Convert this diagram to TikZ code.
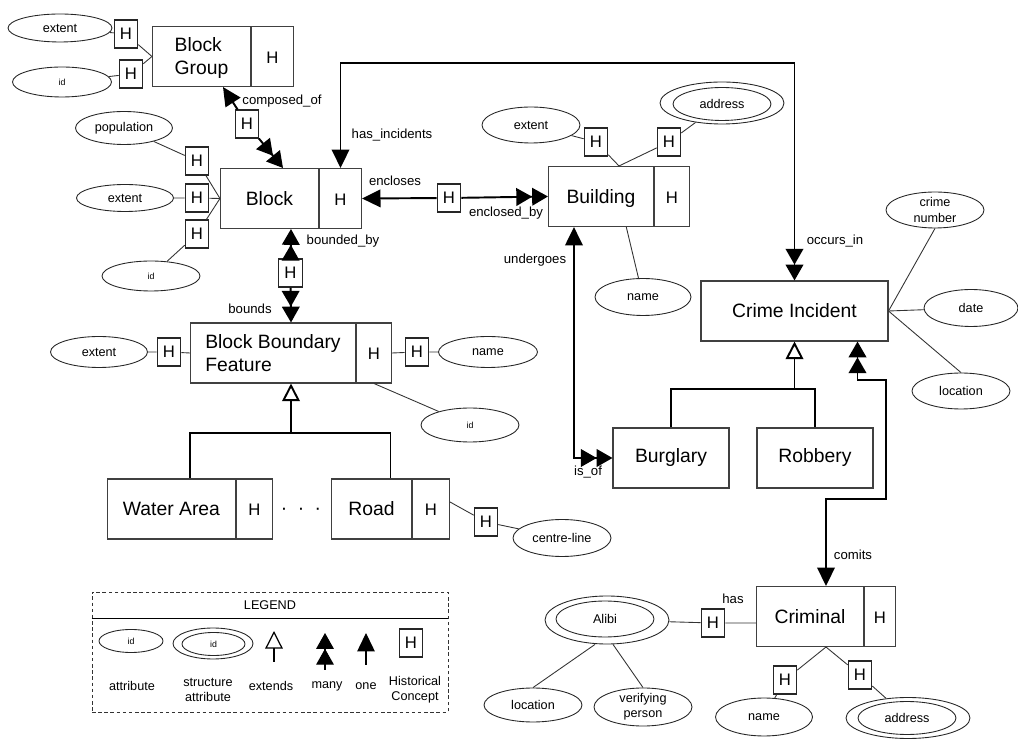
\documentclass[tikz,border=0pt]{standalone}
\usepackage{fontspec}
\setmainfont{Liberation Sans}
\usetikzlibrary{shapes.geometric, shapes.multipart, arrows.meta, calc}

\newcommand{\entfont}{\fontsize{11}{13}\selectfont}
\newcommand{\hisfont}{\fontsize{9.5}{11}\selectfont}
\newcommand{\estrut}{\rule[\dimexpr3.9pt-0.6cm\relax]{0pt}{1.2cm}}
% entity with history part: name width, H width, name
\newcommand{\hent}[3]{\makebox[#1]{\estrut#3}\nodepart{two}\makebox[#2]{\estrut\hisfont H}}

\tikzset{
    entity/.style={
        rectangle, draw=black!75, line width=0.6pt,
        minimum height=1.2cm, fill=white, font=\entfont
    },
    hentity/.style={
        rectangle split, rectangle split horizontal, rectangle split parts=2,
        draw=black!75, line width=0.6pt, inner sep=0pt,
        fill=white, font=\entfont
    },
    attr/.style={
        ellipse, draw=black!85, line width=0.5pt, inner sep=0pt,
        minimum width=1.96cm, minimum height=0.68cm,
        fill=white, align=center, font=\fontsize{7.2}{8.6}\selectfont
    },
    idattr/.style={attr, font=\fontsize{5}{6}\selectfont},
    hbox/.style={
        rectangle, draw=black!85, line width=0.6pt, inner sep=0pt,
        minimum width=0.47cm, minimum height=0.56cm,
        fill=white, font=\hisfont
    },
    rel/.style={draw=black, line width=1.1pt},
    attrline/.style={draw=black!80, line width=0.5pt},
    rellabel/.style={font=\fontsize{7.5}{9}\selectfont, inner sep=1pt},
    legendbox/.style={draw=black!80, dashed, dash pattern=on 2pt off 1.5pt, line width=0.5pt},
    legendlabel/.style={font=\fontsize{7.2}{8.6}\selectfont, align=center, inner sep=1pt},
    onetip/.tip={Triangle[length=10.5pt,width=10pt]},
    manytip/.tip={Triangle[length=9pt,width=10pt] Triangle[length=9pt,width=10pt]},
    isatip/.tip={Triangle[open,length=10pt,width=10pt]}
}

\begin{document}
\begin{tikzpicture}[x=0.02cm, y=-0.02cm]
\useasboundingbox (0,0) rectangle (1018,739);

% entities
\node[hentity] (bgrp) at (223,56.5) {\hent{1.96cm}{0.84cm}{\begin{tabular}{@{}l@{}}Block\\Group\end{tabular}}};
\node[hentity] (blk) at (291,198.5) {\hent{1.96cm}{0.84cm}{Block}};
\node[hentity] (bld) at (619,196.5) {\hent{2.1cm}{0.7cm}{Building}};
\node[hentity] (bbf) at (291,353) {\hent{3.3cm}{0.7cm}{\begin{tabular}{@{}l@{}}Block Boundary\\Feature\end{tabular}}};
\node[hentity] (wat) at (190,509) {\hent{2.56cm}{0.72cm}{Water Area}};
\node[hentity] (road) at (390.5,509) {\hent{1.6cm}{0.74cm}{Road}};
\node[entity, minimum width=3.74cm] (ci) at (794.5,311) {Crime Incident};
\node[entity, minimum width=2.32cm] (burg) at (671,458) {Burglary};
\node[entity, minimum width=2.32cm] (rob) at (815,458) {Robbery};
\node[hentity] (crim) at (826,616.5) {\hent{2.14cm}{0.62cm}{Criminal}};
\node[font=\entfont, inner sep=0pt] (dots) at (301,511) {·\hspace{6pt}·\hspace{6pt}·};

% attributes
\node[attr, minimum width=2.08cm, minimum height=0.56cm] (ext1) at (60,28) {extent};
\node[idattr, minimum width=1.98cm, minimum height=0.6cm] (id1) at (62,82) {id};
\node[attr, minimum width=1.94cm, minimum height=0.66cm] (pop) at (124,128) {population};
\node[attr, minimum width=1.94cm, minimum height=0.54cm] (ext2) at (125,198) {extent};
\node[idattr, minimum height=0.6cm] (id2) at (151,276) {id};
\node[attr, minimum height=0.72cm] (ext3) at (531,125) {extent};
\node[attr, minimum width=2.48cm, minimum height=0.84cm] (addr1) at (722,103) {};
\node[attr, minimum height=0.66cm] (addr1in) at (722,104) {address};
\node[attr, minimum width=1.92cm, minimum height=0.74cm] (name1) at (643,297) {name};
\node[attr, minimum height=0.72cm] (cnum) at (935,210) {crime\\number};
\node[attr, minimum width=1.88cm, minimum height=0.74cm] (date) at (971,308) {date};
\node[attr, minimum height=0.72cm] (loc1) at (961,391) {location};
\node[attr, minimum width=1.94cm, minimum height=0.62cm] (ext4) at (99,352) {extent};
\node[attr, minimum width=1.98cm, minimum height=0.62cm] (name4) at (488,352) {name};
\node[idattr] (id4) at (470,425) {id};
\node[attr, minimum height=0.74cm] (cl) at (562,538) {centre-line};
\node[attr, minimum width=2.48cm, minimum height=0.96cm] (alibi) at (607,620) {};
\node[attr, minimum height=0.72cm] (alibiin) at (605,619) {Alibi};
\node[attr, minimum height=0.68cm] (loc2) at (533,705) {location};
\node[attr, minimum height=0.74cm] (vper) at (643,707) {verifying\\person};
\node[attr, minimum width=1.94cm, minimum height=0.76cm] (name2) at (764,717) {name};
\node[attr, minimum width=2.48cm, minimum height=0.82cm] (addr2) at (908,718) {};
\node[attr, minimum height=0.66cm] (addr2in) at (907,718) {address};

% historical concepts
\node[hbox] (hext1) at (126,34) {H};
\node[hbox] (hid1) at (131,74) {H};
\node[hbox] (hco) at (247,124) {H};
\node[hbox] (hpop) at (197,161) {H};
\node[hbox] (hext2) at (197,198) {H};
\node[hbox] (hid2) at (197,234) {H};
\node[hbox] (hen) at (449,198) {H};
\node[hbox] (hbd) at (290.5,273) {H};
\node[hbox] (hext3) at (596,142) {H};
\node[hbox] (haddr1) at (669,142) {H};
\node[hbox] (hext4) at (169,352) {H};
\node[hbox] (hname4) at (417,352) {H};
\node[hbox] (hcl) at (486,522) {H};
\node[hbox] (hhas) at (713,623) {H};
\node[hbox] (hname2) at (785,680) {H};
\node[hbox] (haddr2) at (860,675) {H};

% attribute links
\draw[attrline] (ext1) -- (hext1) -- (bgrp.west);
\draw[attrline] (id1) -- (hid1) -- (bgrp.west);
\draw[attrline] (pop) -- (hpop) -- (blk.west);
\draw[attrline] (ext2) -- (hext2) -- (blk.west);
\draw[attrline] (id2) -- (hid2) -- (blk.west);
\draw[attrline] (ext3) -- (hext3) -- (bld.north);
\draw[attrline] (addr1) -- (haddr1) -- (bld.north);
\draw[attrline] (bld) -- (name1);
\draw[attrline] (ci.east) -- (cnum.south);
\draw[attrline] (ci.east) -- (date);
\draw[attrline] (ci.east) -- (loc1.north);
\draw[attrline] (ext4) -- (hext4) -- (bbf.west);
\draw[attrline] (bbf.east) -- (hname4) -- (name4);
\draw[attrline] (bbf.two south) -- (id4);
\draw[attrline] ($(road.east)+(0,-7)$) -- (hcl) -- (cl);
\draw[attrline] (alibi) -- (hhas) -- (hhas -| crim.west);
\draw[attrline] ($(alibi.south)+(-12,0)$) -- (loc2.north);
\draw[attrline] ($(alibi.south)+(6,0)$) -- (vper.north);
\draw[attrline] (crim.south) -- (hname2) -- (name2);
\draw[attrline] (crim.south) -- (haddr2) -- (addr2);

% relationships
\coordinate (hinc) at (0,63);
\coordinate (cm1) at (886,380);
\coordinate (cm2) at (886,499);
\draw[rel, {onetip}-] (bgrp.south) -- (hco);
\draw[rel, -{manytip}] (hco) -- ($(blk.north)+(-8,0)$);
\draw[rel, {onetip}-{manytip}] (blk.two north) -- (blk.two north |- hinc) -| (ci.north);
\draw[rel, {onetip}-] (blk.east) -- (hen);
\draw[rel, -{manytip}] (hen) -- (bld.west);
\draw[rel, {manytip}-] (blk.south) -- (hbd);
\draw[rel, -{manytip}] (hbd) -- (bbf.north);
\draw[rel, {onetip}-{manytip}] ($(bld.south west)+(26,0)$) |- (burg.west);
\draw[rel, {manytip}-{onetip}] ($(ci.south east)+(-31,0)$) |- (cm1) -- (cm2) -| (crim.north);

% generalisations
\coordinate (bbfgen) at (291,433);
\coordinate (cigen) at (794.5,389);
\draw[rel, -{isatip}] (bbfgen) -- (bbf.south);
\draw[rel] (wat.north) |- (bbfgen) -| (road.north);
\draw[rel, -{isatip}] (cigen) -- (ci.south);
\draw[rel] (burg.north) |- (cigen) -| (rob.north);

% relationship labels
\node[rellabel] (lcomp) at (282,101) {composed\_of};
\node[rellabel] (lhasinc) at (392,135) {has\_incidents};
\node[rellabel] (lencl) at (395,181) {encloses};
\node[rellabel] (lenclby) at (506,213) {enclosed\_by};
\node[rellabel] (lbndby) at (343,241) {bounded\_by};
\node[rellabel] (lbnds) at (250,309) {bounds};
\node[rellabel] (lundg) at (535,260) {undergoes};
\node[rellabel] (locc) at (835,241) {occurs\_in};
\node[rellabel] (lisof) at (588,472) {is\_of};
\node[rellabel] (lcom) at (853,555) {comits};
\node[rellabel] (lhas) at (733,599) {has};

% legend
\node[legendbox, minimum width=7.12cm, minimum height=2.4cm] (leg) at (270,652) {};
\draw[draw=black, line width=0.6pt] ($(leg.north west)+(0,27)$) -- ($(leg.north east)+(0,27)$);
\node[legendlabel] (legtitle) at (270,605) {LEGEND};
\node[idattr, minimum width=1.28cm, minimum height=0.46cm] (lattr) at (131,641) {id};
\node[attr, minimum width=1.6cm, minimum height=0.62cm] (lsattr) at (213,643.5) {};
\node[idattr, minimum width=1.26cm, minimum height=0.46cm] (lsattrin) at (213.5,644) {id};
\coordinate (lexta) at (274,662);
\coordinate (lextb) at (274,631);
\coordinate (lmanya) at (325,670);
\coordinate (lmanyb) at (325,633);
\coordinate (lonea) at (366,665);
\coordinate (loneb) at (366,633);
\draw[rel, line width=0.7pt, -{isatip}] (lexta) -- (lextb);
\draw[rel, line width=0.6pt, -{manytip}] (lmanya) -- (lmanyb);
\draw[rel, line width=0.6pt, -{onetip}] (lonea) -- (loneb);
\node[hbox] (lH) at (411,643) {H};
\node[legendlabel] (ltattr) at (132,686) {attribute};
\node[legendlabel] (ltsattr) at (208,690) {structure\\attribute};
\node[legendlabel] (ltext) at (271,686) {extends};
\node[legendlabel] (ltmany) at (327,686) {many};
\node[legendlabel] (ltone) at (366,686) {one};
\node[legendlabel] (lthist) at (415,690) {Historical\\Concept};

\end{tikzpicture}
\end{document}
